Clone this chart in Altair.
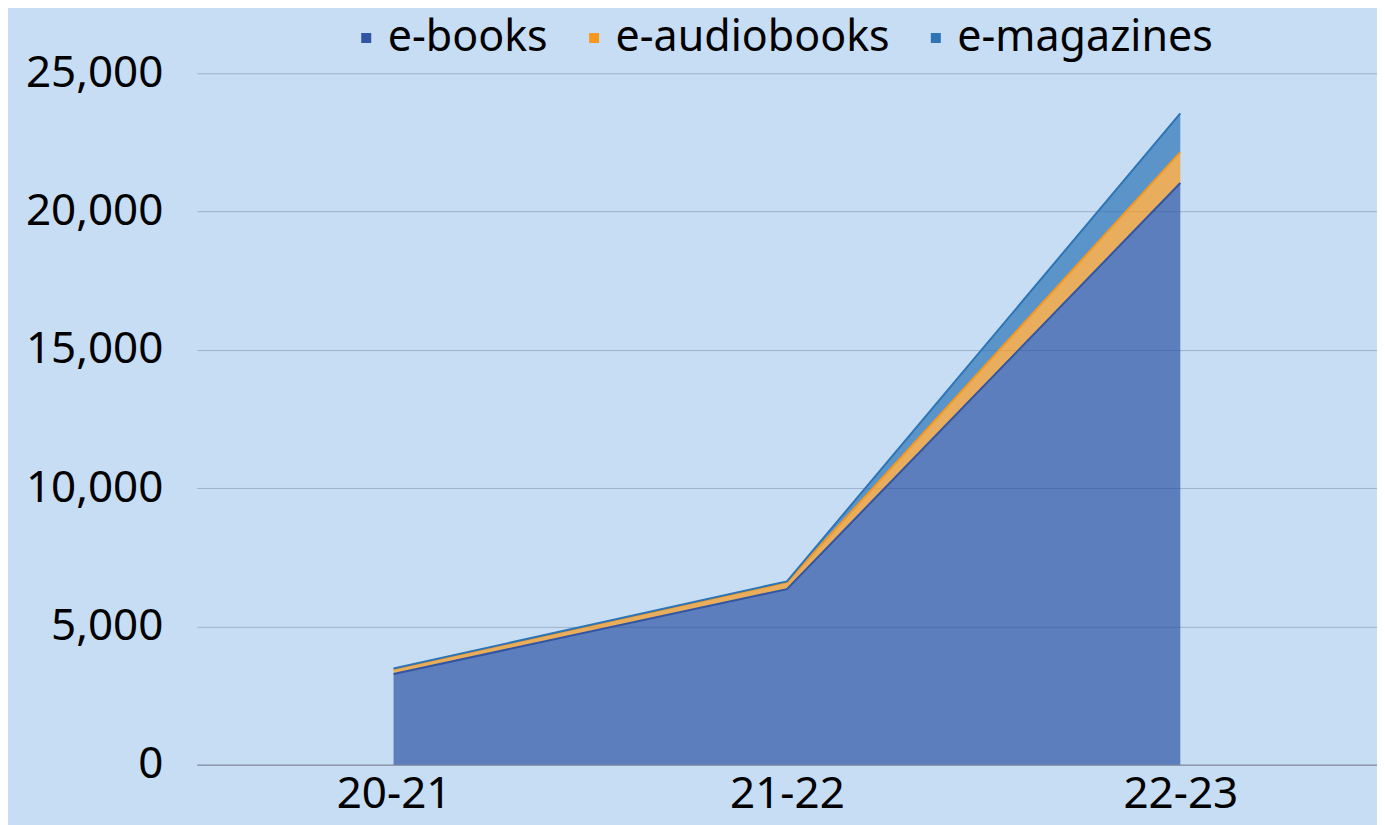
import altair as alt
import pandas as pd

years = ["20-21", "21-22", "22-23"]
series = ["e-books", "e-audiobooks", "e-magazines"]
ebooks = [3280, 6350, 21030]
audiobooks = [180, 250, 1120]
magazines = [20, 30, 1400]
colors = ["#2F55A4", "#F7981D", "#2E75B6"]

rows = []
for i, y in enumerate(years):
    for k, (s, vals) in enumerate(zip(series, [ebooks, audiobooks, magazines])):
        rows.append({"year": y, "series": s, "value": vals[i], "order": k})
df = pd.DataFrame(rows)

FONT = "Noto Sans"

chart = alt.Chart(df).mark_area(
    opacity=0.7,
    line={"strokeWidth": 2},
).encode(
    x=alt.X("year:N", sort=years, title=None,
            scale=alt.Scale(type="point", padding=0.5),
            axis=alt.Axis(labelAngle=0, labelFontSize=44, labelColor="black",
                          labelFont=FONT, ticks=False, domainColor="#8E9AAB",
                          domainWidth=1.5, labelPadding=8, grid=False)),
    y=alt.Y("value:Q", stack="zero", title=None,
            scale=alt.Scale(domain=[0, 25000], nice=False),
            axis=alt.Axis(values=[0, 5000, 10000, 15000, 20000, 25000], format=",.0f",
                          labelFontSize=44, labelColor="black", labelFont=FONT,
                          ticks=False, domain=False, labelPadding=34,
                          gridColor="#9DB1CB", gridWidth=1)),
    color=alt.Color("series:N", sort=series,
                    scale=alt.Scale(domain=series, range=colors),
                    legend=alt.Legend(orient="none", legendX=148, legendY=-57,
                                      direction="horizontal", title=None,
                                      symbolType="square", symbolSize=100,
                                      symbolOpacity=1, symbolStrokeWidth=0,
                                      labelFontSize=43, labelFont=FONT,
                                      labelLimit=400,
                                      labelColor="black", columnPadding=24,
                                      labelOffset=0)),
    order=alt.Order("order:Q"),
).properties(
    width=1181, height=692,
    autosize=alt.AutoSizeParams(type="none"),
    padding={"left": 189, "top": 65, "right": 0, "bottom": 60},
).configure(background="#C7DDF3").configure_view(stroke=None)

chart.save("out.html", embed_options={"renderer": "svg", "actions": False})
